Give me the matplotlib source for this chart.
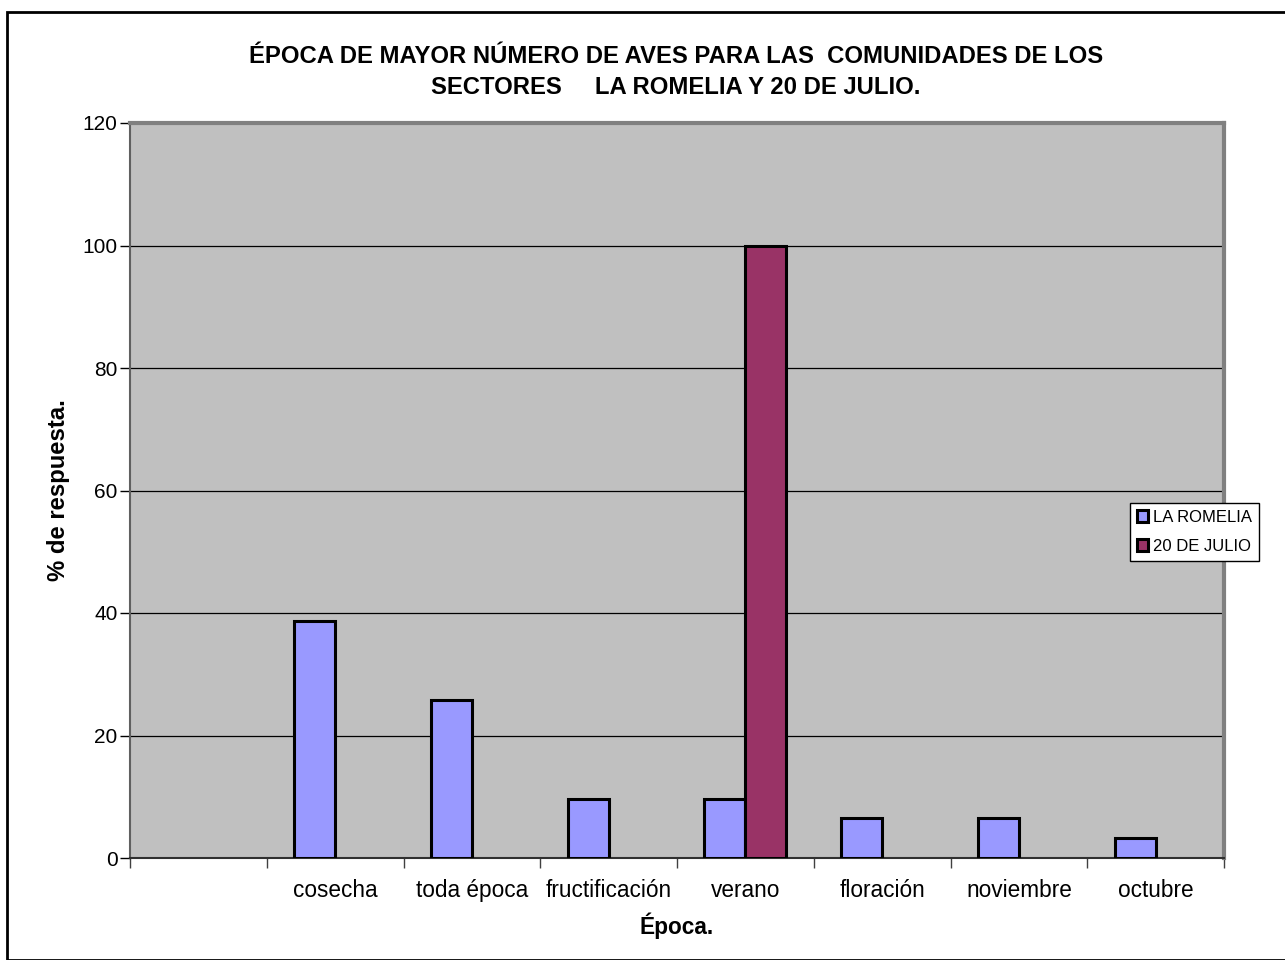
import numpy as np
import matplotlib
matplotlib.use("Agg")
import matplotlib.pyplot as plt
from matplotlib.patches import Rectangle

plt.rcParams["font.family"] = ["Liberation Sans", "DejaVu Sans"]

# data
categories = ["", "cosecha", "toda época", "fructificación", "verano",
              "floración", "noviembre", "octubre"]
la_romelia = [0, 38.7, 25.8, 9.7, 9.7, 6.5, 6.5, 3.2]
veinte_julio = [0, 0, 0, 0, 100, 0, 0, 0]
series_names = ["LA ROMELIA", "20 DE JULIO"]
y_ticks = [0, 20, 40, 60, 80, 100, 120]

W, H = 1285, 960
fig = plt.figure(figsize=(W / 100, H / 100), dpi=100)
ax = fig.add_axes([130 / W, 1 - 858 / H, (1224 - 130) / W, (858 - 123) / H])
ax.set_facecolor("#C0C0C0")

x = np.arange(len(categories))
bw = 0.3
rom = [v if v > 0 else np.nan for v in la_romelia]
jul = [v if v > 0 else np.nan for v in veinte_julio]
ax.bar(x - bw / 2, rom, bw, color="#9999FF", edgecolor="black", linewidth=2.2,
       label=series_names[0], zorder=3)
ax.bar(x + bw / 2, jul, bw, color="#993366", edgecolor="black", linewidth=2.2,
       label=series_names[1], zorder=3)

ax.set_xlim(-0.5, len(categories) - 0.5)
ax.set_ylim(0, 120)
ax.set_yticks(y_ticks)
ax.yaxis.grid(True, color="black", linewidth=0.9, zorder=1)
ax.set_axisbelow(True)

# ticks at category boundaries, labels centred
ax.set_xticks(np.arange(len(categories) + 1) - 0.5)
ax.set_xticklabels([])
ax.set_xticks(x, minor=True)
ax.set_xticklabels(categories, minor=True, fontsize=16.3)
ax.tick_params(axis="x", which="minor", length=0, pad=15)
ax.tick_params(axis="x", which="major", length=7, width=1, color="#404040")
ax.tick_params(axis="y", length=7, width=1, labelsize=15, pad=2)

for side in ["top", "right"]:
    ax.spines[side].set_color("#808080")
    ax.spines[side].set_linewidth(3)
ax.spines["left"].set_color("#606060")
ax.spines["left"].set_linewidth(1.5)
ax.spines["bottom"].set_color("#303030")
ax.spines["bottom"].set_linewidth(1.5)

ax.set_ylabel("% de respuesta.", fontsize=17.2, fontweight="bold", labelpad=9)
ax.set_xlabel("Época.", fontsize=16.3, fontweight="bold", labelpad=8)

fig.text(676 / W, 1 - 72 / H,
         "ÉPOCA DE MAYOR NÚMERO DE AVES PARA LAS  COMUNIDADES DE LOS\n"
         "SECTORES     LA ROMELIA Y 20 DE JULIO.",
         ha="center", va="center", fontsize=17.2, fontweight="bold",
         linespacing=1.45)

leg = ax.legend(loc="center left", bbox_to_anchor=(1130 / W, 1 - 532 / H),
                bbox_transform=fig.transFigure, fontsize=12, frameon=True,
                fancybox=False, edgecolor="black", framealpha=1,
                handlelength=0.7, handleheight=0.7, handletextpad=0.3,
                borderpad=0.4, labelspacing=0.85, borderaxespad=0)
leg.get_frame().set_linewidth(1)

# outer chart border
fig.patches.append(Rectangle((7 / W, 0), 1, 1 - 12 / H, transform=fig.transFigure,
                             fill=False, edgecolor="black", linewidth=2))

fig.savefig("out.png", dpi=100)
